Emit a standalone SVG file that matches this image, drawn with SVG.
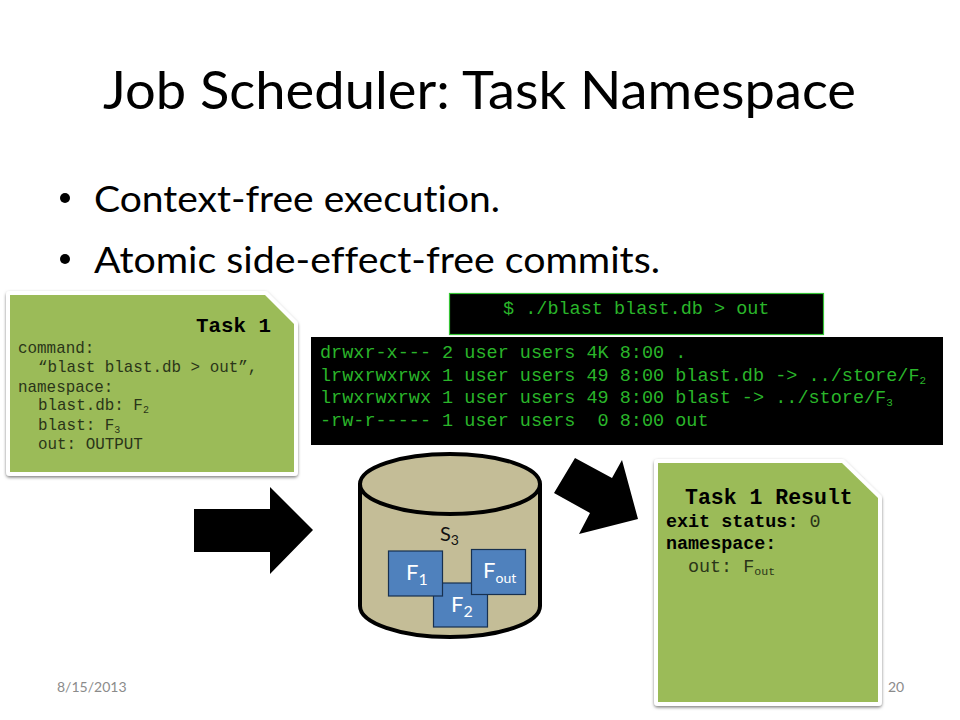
<svg xmlns="http://www.w3.org/2000/svg" width="960" height="720" viewBox="0 0 960 720">
<defs>
<filter id="sh" x="-5%" y="-5%" width="110%" height="110%"><feDropShadow dx="0" dy="1.5" stdDeviation="1.5" flood-color="#000" flood-opacity="0.5"/></filter>
</defs>
<style>
.s{font-family:"Lato","Open Sans","Liberation Sans",sans-serif;font-variant-ligatures:none}
.title{font-size:53px;fill:#000}
.bul{font-size:37px;fill:#000}
.m{font-family:"Liberation Mono","DejaVu Sans Mono",monospace;white-space:pre;font-variant-ligatures:none}
.g{fill:#2ab52a;font-size:18.5px}
.k{fill:#2a3518;font-size:15.9px}
.r{fill:#2a3518;font-size:18.4px}
.b{font-weight:bold;fill:#000}
.card{fill:#9bbb59;stroke:#fff;stroke-width:8;stroke-linejoin:round;paint-order:stroke;filter:url(#sh)}
.file{fill:#4f81bd;stroke:#17304f;stroke-width:1.2}
.fl{font-size:22px;fill:#fff}
.foot{font-size:14px;fill:#8b8b8b}
</style>
<rect width="960" height="720" fill="#fff"/>
<text class="s title" x="103" y="109" textLength="753" lengthAdjust="spacingAndGlyphs">Job Scheduler: Task Namespace</text>
<g id="bullets">
<circle cx="65" cy="198" r="5"/>
<text class="s bul" x="94" y="212" textLength="406" lengthAdjust="spacingAndGlyphs">Context-free execution.</text>
<circle cx="65" cy="259" r="5"/>
<text class="s bul" x="94" y="273" textLength="566" lengthAdjust="spacingAndGlyphs">Atomic side-effect-free commits.</text>
</g>
<g id="connectors">
<polygon points="194,509 270,509 270,487 313,530 270,574 270,552 194,552" fill="#000"/>
<polygon points="575,458 612,478 622,460 638,519 579,534 590,513 554,493" fill="#000"/>
</g>
<g id="task1">
<polygon class="card" points="10,295 265,295 294,324 294,472 10,472"/>
<text class="m b" font-size="20.8" x="196" y="332">Task 1</text>
<text class="m k" x="18" y="353">command:</text>
<text class="m k" x="38" y="372">“blast blast.db &gt; out”,</text>
<text class="m k" x="18" y="392">namespace:</text>
<text class="m k" x="38" y="410">blast.db: F<tspan font-size="10" dy="3">2</tspan></text>
<text class="m k" x="38" y="430">blast: F<tspan font-size="10" dy="3">3</tspan></text>
<text class="m k" x="38" y="449">out: OUTPUT</text>
</g>
<g id="command">
<rect x="449.500" y="293.500" width="374" height="41" fill="#000" stroke="#35c435" stroke-width="1.2"/>
<text class="m g" x="503" y="314">$ ./blast blast.db &gt; out</text>
</g>
<g id="listing">
<rect x="311" y="337" width="632" height="108" fill="#000"/>
<text class="m g" x="320" y="358">drwxr-x--- 2 user users 4K 8:00 .</text>
<text class="m g" x="320" y="381">lrwxrwxrwx 1 user users 49 8:00 blast.db -&gt; ../store/F<tspan font-size="11" dy="3">2</tspan></text>
<text class="m g" x="320" y="403">lrwxrwxrwx 1 user users 49 8:00 blast -&gt; ../store/F<tspan font-size="11" dy="3">3</tspan></text>
<text class="m g" x="320" y="426">-rw-r----- 1 user users  0 8:00 out</text>
</g>
<g id="s3">
<path d="M360,484 V606 C360,623 400,637 450,637 C500,637 540,623 540,606 V484" fill="#c4bd97" stroke="#000" stroke-width="4"/>
<ellipse cx="450" cy="484" rx="90" ry="30" fill="#c4bd97" stroke="#000" stroke-width="4"/>
<text class="s" font-size="20" x="440" y="541" fill="#111">S<tspan font-size="14" dy="4">3</tspan></text>
</g>
<g id="f2"><rect class="file" x="433.500" y="583" width="54" height="44"/><text class="s fl" x="451" y="612">F<tspan font-size="16" dy="5">2</tspan></text></g>
<g id="f1"><rect class="file" x="388.500" y="551" width="54" height="45"/><text class="s fl" x="406" y="580">F<tspan font-size="16" dy="5">1</tspan></text></g>
<g id="fout"><rect class="file" x="471.500" y="549.500" width="54" height="45"/><text class="s fl" x="483" y="578">F<tspan font-size="14" dy="5" dx="0">out</tspan></text></g>
<g id="result">
<polygon class="card" points="658,463 842,463 878,498 878,702 658,702"/>
<text class="m b" font-size="21.500" x="685" y="504">Task 1 Result</text>
<text class="m r" x="666" y="527"><tspan class="b">exit status:</tspan> 0</text>
<text class="m r b" x="666" y="549">namespace:</text>
<text class="m r" x="688" y="572">out: F<tspan font-size="11.600" dy="3">out</tspan></text>
</g>
<g id="footer">
<text class="s foot" x="57" y="692">8/15/2013</text>
<text class="s foot" x="888" y="692">20</text>
</g>
</svg>
